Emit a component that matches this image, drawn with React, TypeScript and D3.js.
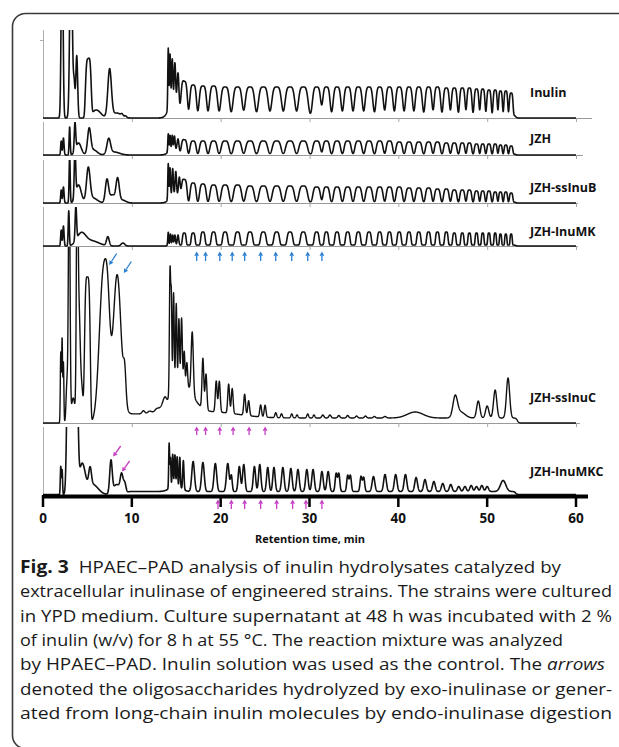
import React, { useEffect, useRef } from "react";
import * as d3 from "d3";

// retention time axis (min)
const timeTicks = [0, 10, 20, 30, 40, 50, 60];

// retention times of the oligosaccharide ladder (min), shared by the inulin-like runs
const dpTimes = [15.9, 16.9, 18.0, 19.2, 20.5, 21.9, 23.3, 24.8, 26.3, 27.8, 29.3, 30.8, 31.9, 33.1, 34.3, 35.5, 36.7, 37.9, 39.0, 40.1, 41.2, 42.3, 43.4, 44.4, 45.4, 46.3, 47.2, 48.0, 48.8, 49.5, 50.2, 50.9, 51.5, 52.1, 52.7];

// ladder peak heights per run (response units)
const inulinDp = [33, 30, 29, 29, 28, 28, 28, 28, 28, 28, 28, 28, 28, 28, 28, 28, 28, 28, 28, 28, 28, 28, 28, 28, 27, 27, 27, 27, 26, 26, 25, 25, 24, 24, 22];
const jzhDp = [14, 13, 13, 13, 13, 13, 13, 13, 13, 13, 13, 13, 13, 13, 13, 13, 13, 13, 13, 12, 12, 12, 12, 12, 11, 11, 11, 11, 10, 10, 10, 10, 9, 9, 8];
const ssInuBDp = [22, 19, 18, 17, 17, 17, 16, 16, 16, 16, 16, 15, 15, 15, 15, 15, 15, 15, 15, 15, 14, 14, 14, 13, 13, 12, 12, 12, 11, 11, 11, 10, 10, 10, 9];
const inuMKDp = [12, 12, 13, 13, 13, 13, 13, 13, 13, 13, 13, 13, 13, 13, 13, 13, 13, 13, 13, 13, 13, 13, 13, 13, 13, 12, 12, 12, 12, 12, 12, 12, 11, 11, 11];

// other peaks: [time, height, width, shape]
const inulinPeaks = [
  [2.15, 200, 0.1], [3.15, 200, 0.13], [3.5, 35, 0.1], [3.8, 62, 0.1], [5.1, 58, 0.3, 4], [6.0, 8, 0.5],
  [7.5, 48, 0.2], [8.3, 5, 0.5], [8.9, 2, 0.12], [9.3, 1.5, 0.12],
  [14.1, 60, 0.05], [14.3, 50, 0.06], [14.55, 42, 0.07], [14.85, 38, 0.08], [15.2, 33, 0.1], [14.7, 15, 0.5],
];
const jzhPeaks = [
  [2.05, 14, 0.06], [2.3, 17, 0.07], [3.0, 28, 0.06], [3.6, 28, 0.08], [4.0, 12, 0.3], [5.2, 25, 0.18], [5.7, 5, 0.4],
  [7.4, 15, 0.2], [8.0, 3, 0.6],
  [14.1, 18, 0.05], [14.3, 15, 0.06], [14.55, 14, 0.06], [14.8, 13, 0.07], [15.2, 12, 0.1], [14.7, 5, 0.5],
];
const ssInuBPeaks = [
  [2.05, 13, 0.06], [2.3, 16, 0.07], [3.0, 48, 0.06], [3.6, 48, 0.08], [4.0, 18, 0.3], [5.1, 33, 0.2], [5.6, 5, 0.5],
  [7.2, 23, 0.18], [7.8, 8, 0.3], [8.4, 23, 0.18], [8.9, 3, 0.4],
  [14.1, 36, 0.05], [14.3, 30, 0.06], [14.6, 27, 0.07], [14.95, 24, 0.08], [15.35, 21, 0.1], [14.8, 7, 0.5],
];
const inuMKPeaks = [
  [2.05, 16, 0.06], [2.3, 20, 0.07], [2.9, 35, 0.06], [3.7, 34, 0.08], [4.3, 12, 0.5], [5.5, 5, 0.8], [7.3, 9, 0.15], [9.0, 3, 0.2],
  [14.1, 13, 0.05], [14.35, 11, 0.06], [14.6, 10, 0.06], [14.85, 10, 0.07], [15.2, 10, 0.08],
];
const ssInuCPeaks = [
  [2.0, 70, 0.05], [2.15, 85, 0.05], [2.3, 60, 0.05], [2.7, 40, 0.1], [2.95, 260, 0.09], [3.4, 25, 0.2],
  [3.85, 260, 0.09], [4.05, 90, 0.12], [4.3, 40, 0.2], [5.0, 146, 0.3, 4], [6.8, 150, 0.45], [7.3, 55, 0.25],
  [8.35, 148, 0.45], [9.2, 35, 0.15], [11.3, 3, 0.15], [12.0, 2, 0.2], [12.8, 2, 0.2], [13.7, 5, 0.2],
  [14.3, 125, 0.07], [14.45, 90, 0.06], [14.7, 95, 0.07], [15.0, 80, 0.07], [15.3, 62, 0.07], [15.6, 62, 0.08],
  [15.9, 30, 0.07], [16.2, 22, 0.08], [15.5, 35, 1.2], [19.0, 6, 3],
  [16.8, 62, 0.12], [18.0, 50, 0.1], [18.35, 36, 0.1], [19.5, 31, 0.1], [19.85, 31, 0.1], [20.9, 29, 0.1], [21.3, 25, 0.1],
  [22.7, 21, 0.1], [23.15, 15, 0.1], [24.5, 12, 0.1], [25.0, 12, 0.1], [26.2, 5, 0.1], [26.85, 4, 0.1], [28.0, 4, 0.1],
  [28.6, 3, 0.1], [29.8, 4, 0.1], [30.5, 3, 0.1], [31.5, 3, 0.12], [32.3, 3, 0.12], [33.3, 2.5, 0.12], [34.3, 2.5, 0.12],
  [35.3, 2, 0.12], [36.3, 2, 0.12], [37.3, 1.5, 0.12], [38.5, 1.5, 0.15], [41.9, 6, 0.9],
  [46.4, 20, 0.25], [47.0, 6, 0.5], [49.0, 17, 0.18], [50.0, 12, 0.18], [50.9, 28, 0.18], [52.35, 40, 0.18],
];
const inuMKCPeaks = [
  [2.0, 28, 0.05], [2.15, 25, 0.05], [3.3, 300, 0.5, 4], [4.4, 30, 0.35], [5.3, 18, 0.15], [5.6, 10, 0.6],
  [7.65, 32, 0.14], [8.3, 10, 0.4], [8.85, 17, 0.15], [9.2, 11, 0.15],
  [14.2, 45, 0.05], [14.35, 30, 0.05], [14.6, 32, 0.06], [14.85, 31, 0.06], [15.1, 29, 0.06], [15.4, 30, 0.06],
  [15.8, 29, 0.07], [14.9, 6, 0.6],
  [16.9, 30, 0.15], [18.0, 29, 0.15], [19.4, 28, 0.15], [20.8, 28, 0.15], [21.2, 16, 0.1], [22.1, 25, 0.13],
  [22.6, 27, 0.13], [23.8, 25, 0.13], [24.4, 27, 0.13], [25.3, 24, 0.13], [26.0, 24, 0.13], [27.0, 24, 0.14],
  [27.9, 23, 0.14], [28.7, 22, 0.14], [29.7, 22, 0.14], [30.4, 22, 0.14], [31.4, 20, 0.14], [32.1, 20, 0.14],
  [33.0, 18, 0.11], [33.3, 18, 0.11], [34.3, 16, 0.11], [34.6, 16, 0.11], [35.8, 15, 0.11], [36.1, 14, 0.11],
  [37.2, 15, 0.15], [38.5, 17, 0.15], [39.7, 17, 0.15], [40.8, 17, 0.15], [42.0, 14, 0.15], [43.0, 12, 0.15],
  [44.0, 10, 0.15], [45.0, 8, 0.15], [45.9, 7, 0.15], [46.8, 5, 0.15], [47.5, 5, 0.15], [48.2, 6, 0.15],
  [48.8, 5, 0.15], [49.4, 6, 0.15], [50.0, 5, 0.15], [51.8, 11, 0.3],
];

// raised baselines: [start, end, level]
const inulinBase = [[14.0, 53.2, 3]];
const jzhBase = [[14.0, 53.2, 1]];
const ssInuBBase = [[14.0, 53.2, 1]];
const inuMKBase = [[14.0, 53.2, 1]];
const ssInuCBase = [[9.4, 13.9, 9], [14.0, 53.4, 5]];
const inuMKCBase = [[9.5, 14.0, 3], [14.0, 53.2, 3]];

const sampleNames = ["Inulin", "JZH", "JZH-ssInuB", "JZH-InuMK", "JZH-ssInuC", "JZH-InuMKC"];

// arrow annotations (min)
const blueArrowTimes = [17.3, 18.3, 19.9, 21.3, 22.7, 24.5, 26.2, 28.0, 29.8, 31.4];
const magentaArrowTimes = [17.3, 18.3, 19.9, 21.4, 23.2, 25.0];
const axisArrowTimes = [19.7, 21.2, 22.7, 24.5, 26.3, 28.1, 29.6, 31.4];
const blueDiagonal = [[7.45, 158], [9.1, 150]];
const magentaDiagonal = [[7.9, 38], [8.9, 23]];

const captionLines = [
  [["Fig. 3", "b"], ["HPAEC–PAD analysis of inulin hydrolysates catalyzed by", ""]],
  [["extracellular inulinase of engineered strains. The strains were cultured", ""]],
  [["in YPD medium. Culture supernatant at 48 h was incubated with 2 %", ""]],
  [["of inulin (w/v) for 8 h at 55 °C. The reaction mixture was analyzed", ""]],
  [["by HPAEC–PAD. Inulin solution was used as the control. The ", ""], ["arrows", "i"]],
  [["denoted the oligosaccharides hydrolyzed by exo-inulinase or gener-", ""]],
  [["ated from long-chain inulin molecules by endo-inulinase digestion", ""]],
];
const captionEnds = [561, 612, 612, 563, 605, 612, 612];

const BLUE = "#2b7fd0";
const MAGENTA = "#c63ec4";

const peakValue = (t, pk) => {
  const [t0, h, w, p = 2] = pk;
  return h * Math.exp(-0.5 * Math.pow(Math.abs(t - t0) / w, p));
};
const plateau = (t, [a, b, level]) =>
  level / ((1 + Math.exp(-(t - a) / 0.08)) * (1 + Math.exp((t - b) / 0.08)));

const ladder = (heights, ratio) =>
  heights.map((h, i) => {
    const lo = dpTimes[Math.max(i - 1, 0)];
    const hi = dpTimes[Math.min(i + 1, dpTimes.length - 1)];
    const gap = (hi - lo) / ((i === 0 || i === dpTimes.length - 1) ? 1 : 2);
    return [dpTimes[i], h, gap * ratio, 4];
  });

const App = () => {
  const ref = useRef(null);

  useEffect(() => {
    const svg = d3.select(ref.current);
    svg.selectAll("*").remove();

    const x = d3.scaleLinear().domain([0, 60]).range([43, 576]);

    const panels = [
      { top: 30, base: 118, label: 93, peaks: inulinPeaks.concat(ladder(inulinDp, 0.33)), raised: inulinBase, axisEnd: 592 },
      { top: 122, base: 155, label: 139, peaks: jzhPeaks.concat(ladder(jzhDp, 0.3)), raised: jzhBase, axisEnd: 583 },
      { top: 160, base: 203, label: 188, peaks: ssInuBPeaks.concat(ladder(ssInuBDp, 0.3)), raised: ssInuBBase, axisEnd: 578 },
      { top: 207, base: 246, label: 232, peaks: inuMKPeaks.concat(ladder(inuMKDp, 0.2)), raised: inuMKBase, axisEnd: 578 },
      { top: 247, base: 423, label: 398, peaks: ssInuCPeaks, raised: ssInuCBase, axisEnd: 580 },
      { top: 427, base: 494.5, label: 472, peaks: inuMKCPeaks, raised: inuMKCBase, axisEnd: 588 },
    ];

    svg.append("rect")
      .attr("width", 619).attr("height", 747).attr("fill", "#fff");

    // frame
    svg.append("rect")
      .attr("x", 12.5).attr("y", 13.5)
      .attr("width", 700).attr("height", 735)
      .attr("rx", 13)
      .attr("fill", "none")
      .attr("stroke", "#3a3a3a")
      .attr("stroke-width", 1.6);

    const defs = svg.append("defs");
    const times = d3.range(0, 60.0001, 0.02);

    panels.forEach((p, i) => {
      const y = d3.scaleLinear().domain([0, p.base - p.top]).range([p.base, p.top]);

      // gray panel axes
      svg.append("line")
        .attr("x1", 43.5).attr("x2", 43.5)
        .attr("y1", p.top).attr("y2", p.base)
        .attr("stroke", "#b0b0b0").attr("stroke-width", 1);
      if (i < 5) {
        svg.append("line")
          .attr("x1", 43).attr("x2", p.axisEnd)
          .attr("y1", p.base + 0.5).attr("y2", p.base + 0.5)
          .attr("stroke", "#9a9a9a").attr("stroke-width", 1);
        svg.selectAll(null)
          .data(timeTicks.slice(1))
          .enter()
          .append("line")
          .attr("x1", d => x(d) + 0.5).attr("x2", d => x(d) + 0.5)
          .attr("y1", p.base).attr("y2", p.base + 4)
          .attr("stroke", "#a8a8a8").attr("stroke-width", 1);
      }
      if (i === 0) {
        svg.append("line")
          .attr("x1", 40).attr("x2", 43.5)
          .attr("y1", 40.5).attr("y2", 40.5)
          .attr("stroke", "#b0b0b0");
      }

      defs.append("clipPath")
        .attr("id", "clip" + i)
        .append("rect")
        .attr("x", 30).attr("y", p.top)
        .attr("width", 580).attr("height", p.base - p.top + 6);

      const signal = times.map(t => {
        let v = 0;
        p.peaks.forEach(pk => { v += peakValue(t, pk); });
        p.raised.forEach(r => { v += plateau(t, r); });
        return [t, v];
      });

      const line = d3.line()
        .x(d => x(d[0]))
        .y(d => y(d[1]));

      svg.append("path")
        .datum(signal)
        .attr("d", line)
        .attr("clip-path", "url(#clip" + i + ")")
        .attr("fill", "none")
        .attr("stroke", "#111")
        .attr("stroke-width", i === 4 ? 1.4 : 1.6)
        .attr("stroke-linejoin", "round");

      svg.append("text")
        .attr("x", 530)
        .attr("y", p.label)
        .attr("dy", "0.35em")
        .attr("font-family", "'Open Sans', sans-serif")
        .attr("font-weight", "bold")
        .attr("font-size", 12.5)
        .attr("fill", "#111")
        .text(sampleNames[i]);
    });

    // main time axis
    svg.append("line")
      .attr("x1", 43).attr("x2", 588)
      .attr("y1", 496.5).attr("y2", 496.5)
      .attr("stroke", "#000").attr("stroke-width", 4);
    svg.selectAll(null)
      .data(timeTicks)
      .enter()
      .append("line")
      .attr("x1", d => x(d)).attr("x2", d => x(d))
      .attr("y1", 495).attr("y2", 507)
      .attr("stroke", "#000").attr("stroke-width", 2.5);
    svg.selectAll(null)
      .data(timeTicks)
      .enter()
      .append("text")
      .attr("x", d => x(d))
      .attr("y", 518)
      .attr("dy", "0.36em")
      .attr("text-anchor", "middle")
      .attr("font-family", "'Open Sans', sans-serif")
      .attr("font-weight", "bold")
      .attr("font-size", 13.5)
      .attr("fill", "#111")
      .text(d => d);
    svg.append("text")
      .attr("x", 310)
      .attr("y", 539)
      .attr("dy", "0.35em")
      .attr("text-anchor", "middle")
      .attr("font-family", "'Open Sans', sans-serif")
      .attr("font-weight", "bold")
      .attr("font-size", 11)
      .attr("fill", "#111")
      .text("Retention time, min");

    // arrows
    const arrow = (x1, y1, x2, y2, color) => {
      const a = Math.atan2(y2 - y1, x2 - x1);
      const len = 4.2, half = 2.4;
      const bx = x2 - len * Math.cos(a), by = y2 - len * Math.sin(a);
      svg.append("line")
        .attr("x1", x1).attr("y1", y1).attr("x2", bx).attr("y2", by)
        .attr("stroke", color).attr("stroke-width", 1.3);
      svg.append("path")
        .attr("d", `M${x2},${y2}L${bx - half * Math.sin(a)},${by + half * Math.cos(a)}L${bx + half * Math.sin(a)},${by - half * Math.cos(a)}Z`)
        .attr("fill", color);
    };

    blueArrowTimes.forEach(t => arrow(x(t), 261, x(t), 251.5, BLUE));
    magentaArrowTimes.forEach(t => arrow(x(t), 435, x(t), 426.5, MAGENTA));
    axisArrowTimes.forEach(t => arrow(x(t), 509, x(t), 499.5, MAGENTA));

    const y5 = d3.scaleLinear().domain([0, 176]).range([423, 247]);
    blueDiagonal.forEach(([t, h]) => arrow(x(t) + 7.5, y5(h) - 11.5, x(t), y5(h), BLUE));
    const y6 = d3.scaleLinear().domain([0, 67.5]).range([494.5, 427]);
    magentaDiagonal.forEach(([t, h]) => arrow(x(t) + 7.5, y6(h) - 10.5, x(t), y6(h), MAGENTA));

    // caption
    captionLines.forEach((segs, i) => {
      const txt = svg.append("text")
        .attr("x", 20)
        .attr("y", 573 + i * 24.3)
        .attr("font-family", "'Open Sans', sans-serif")
        .attr("font-size", 17)
        .attr("fill", "#1a1a1a")
        .attr("textLength", captionEnds[i] - 20)
        .attr("lengthAdjust", "spacingAndGlyphs");
      segs.forEach(([s, st], j) => {
        const ts = txt.append("tspan").text(s);
        if (st === "b") ts.attr("font-weight", "bold").attr("font-size", 17.5);
        if (st === "i") ts.attr("font-style", "italic");
        if (i === 0 && j === 1) ts.attr("dx", 9);
      });
    });
  }, []);

  return (
    <div style={{ position: "absolute", left: 0, top: 0 }}>
      <svg ref={ref} width={619} height={747} style={{ display: "block" }} />
    </div>
  );
};

export default App;
